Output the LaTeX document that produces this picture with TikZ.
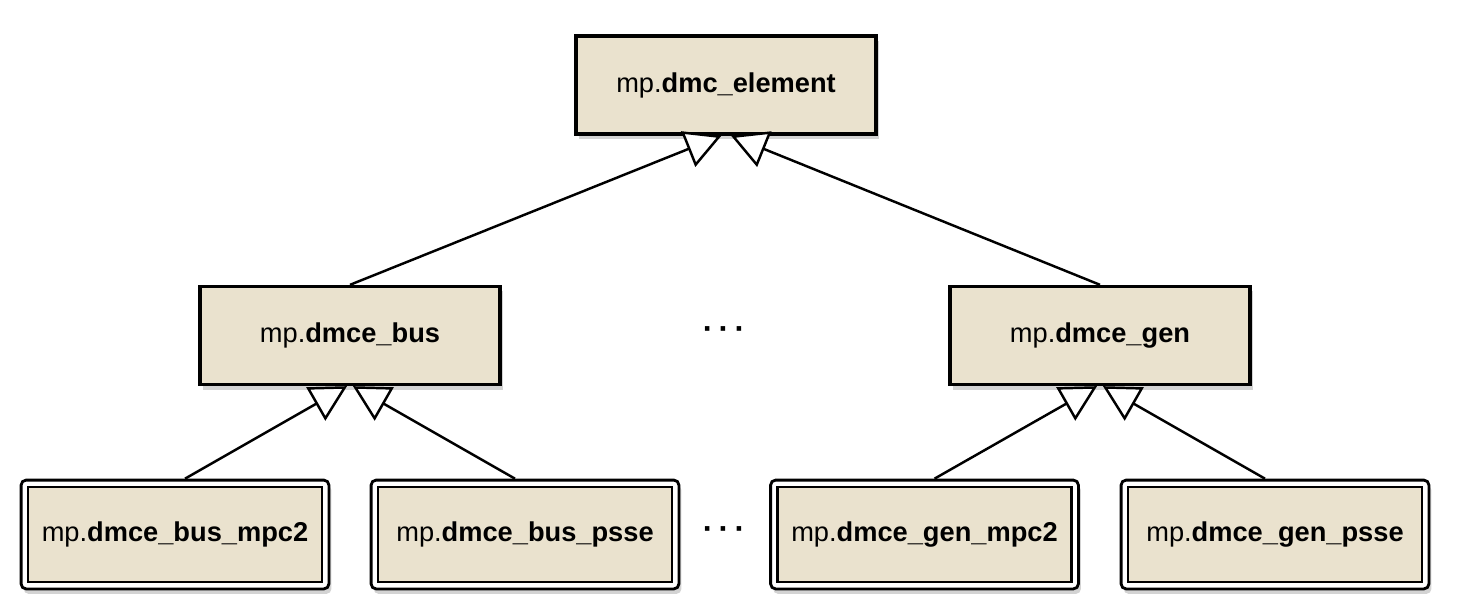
\documentclass[tikz,border=0pt]{standalone}
\usepackage{fontspec}
\setmainfont{Liberation Sans}
\usetikzlibrary{arrows.meta,shadows,fit,backgrounds}
\definecolor{classfill}{RGB}{234,226,206}

\begin{document}
\begin{tikzpicture}[
        font=\fontsize{15.5pt}{18pt}\selectfont,
        class_box/.style={draw=black, line width=1.9pt, fill=classfill, minimum width=6.0cm, minimum height=1.96cm, inner sep=0pt, drop shadow={shadow xshift=0.05cm, shadow yshift=-0.1cm, opacity=0.35}},
        leaf_box/.style={draw=black, line width=1.6pt, fill=classfill, minimum width=5.88cm, minimum height=1.9cm, inner sep=0pt},
        leaf_frame/.style={draw=black, line width=1.6pt, fill=white, rounded corners=0.1cm, inner sep=0.11cm, drop shadow={shadow xshift=0.05cm, shadow yshift=-0.1cm, opacity=0.35}},
        inherit_arrow/.style={-{Triangle[fill=white, length=0.72cm, width=0.76cm, line width=1.4pt]}, line width=1.4pt, black},
        more_dots/.style={font=\fontsize{18pt}{20pt}\selectfont\bfseries}
    ]
    \useasboundingbox (0,0) rectangle (29.32,12.26);

    % --- 1. Base class ---
    \node[class_box] (top) at (14.52,10.56) {mp.\textbf{dmc\_element}};

    % --- 2. Element classes ---
    \node[class_box] (bus) at (7.00,5.55) {mp.\textbf{dmce\_bus}};
    \node[class_box] (gen) at (22.00,5.55) {mp.\textbf{dmce\_gen}};
    \node[more_dots] (dots1) at (14.48,5.60) {·\,·\,·};

    % --- 3. Format specific classes ---
    \node[leaf_box] (busmpc) at (3.50,1.57) {mp.\textbf{dmce\_bus\_mpc2}};
    \node[leaf_box] (buspsse) at (10.50,1.57) {mp.\textbf{dmce\_bus\_psse}};
    \node[leaf_box] (genmpc) at (18.49,1.57) {mp.\textbf{dmce\_gen\_mpc2}};
    \node[leaf_box] (genpsse) at (25.50,1.57) {mp.\textbf{dmce\_gen\_psse}};
    \node[more_dots] (dots2) at (14.48,1.60) {·\,·\,·};

    % outer frames behind the leaf classes
    \begin{scope}[on background layer]
        \foreach \n in {busmpc,buspsse,genmpc,genpsse}
            \node[leaf_frame, fit=(\n)] (\n-f) {};
    \end{scope}

    % Inheritance
    \draw[inherit_arrow] (bus.north) -- ([xshift=-0.09cm]top.south);
    \draw[inherit_arrow] (gen.north) -- ([xshift=0.1cm]top.south);

    \draw[inherit_arrow] ([xshift=0.2cm]busmpc-f.north) -- ([xshift=-0.06cm]bus.south);
    \draw[inherit_arrow] ([xshift=-0.2cm]buspsse-f.north) -- ([xshift=0.06cm]bus.south);
    \draw[inherit_arrow] ([xshift=0.2cm]genmpc-f.north) -- ([xshift=-0.06cm]gen.south);
    \draw[inherit_arrow] ([xshift=-0.2cm]genpsse-f.north) -- ([xshift=0.06cm]gen.south);

\end{tikzpicture}
\end{document}
